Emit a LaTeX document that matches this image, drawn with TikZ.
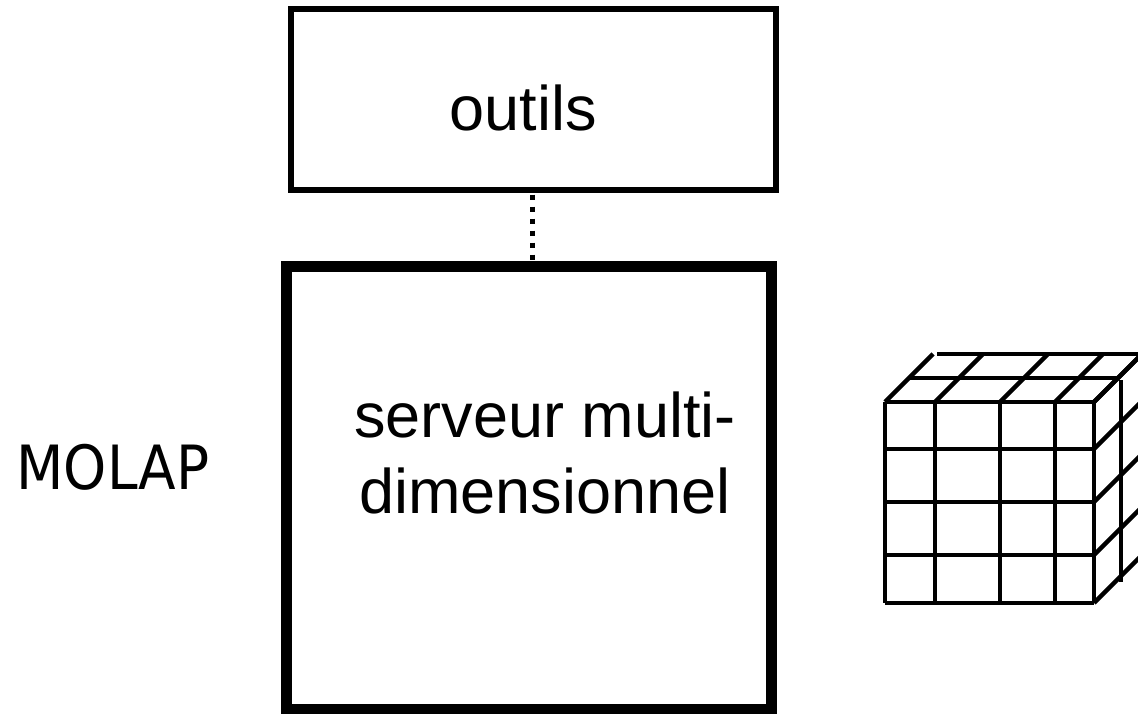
\documentclass[tikz,border=0pt]{standalone}
\usepackage{fontspec}
\setmainfont{Liberation Sans}
\newfontfamily\molapfont[FakeStretch=0.9]{DejaVu Sans}
\begin{document}
\begin{tikzpicture}[x=1pt,y=-1pt,
  boxthin/.style={draw=black,line width=6pt,rectangle,inner sep=0pt},
  boxthick/.style={draw=black,line width=11pt,rectangle,inner sep=0pt},
  lbl/.style={inner sep=0pt,font=\fontsize{63}{76}\selectfont},
  dotline/.style={line width=5pt,dash pattern=on 5pt off 7pt},
  gridline/.style={line width=4.5pt,line cap=butt}]
\useasboundingbox (0,0) rectangle (1138,713);
\clip (0,0) rectangle (1138,713);
% boxes
\node[boxthin,minimum width=485pt,minimum height=180.5pt] (outils) at (533.5,99.25) {};
\node[boxthick,minimum width=484.5pt,minimum height=442.5pt] (serveur) at (528.75,487.75) {};
\node[lbl,anchor=base] (toutils) at (523,130) {outils};
\node[lbl,align=center] (tserveur) at (545,453) {serveur multi-\\dimensionnel};
\node[lbl,font=\molapfont\fontsize{61}{73}\selectfont,anchor=base] (molap) at (113,489) {MOLAP};
% dotted connector
\coordinate (c1) at ([xshift=-1.5pt]outils.south);
\draw[dotline] ([yshift=-2pt]c1) -- (c1 |- serveur.north);
% cube
\begin{scope}[gridline]
  % front face
  \foreach \x in {885,935,1000,1055,1094} \draw (\x,402) -- (\x,603);
  \foreach \y in {402,449,502,555,603} \draw (885,\y) -- (1094,\y);
  % top face
  \foreach \x in {885,935,1000,1055,1094} \draw (\x,402) -- ++(48,-48);
  \draw (909,378) -- (1118,378);
  \draw (937,354) -- (1142,354);
  % right face
  \foreach \y in {402,449,502,555,603} \draw (1094,\y) -- ++(48,-48);
  \draw (1121,380) -- (1121,582);
  \draw (1142,354) -- (1142,555);
\end{scope}
\end{tikzpicture}
\end{document}
